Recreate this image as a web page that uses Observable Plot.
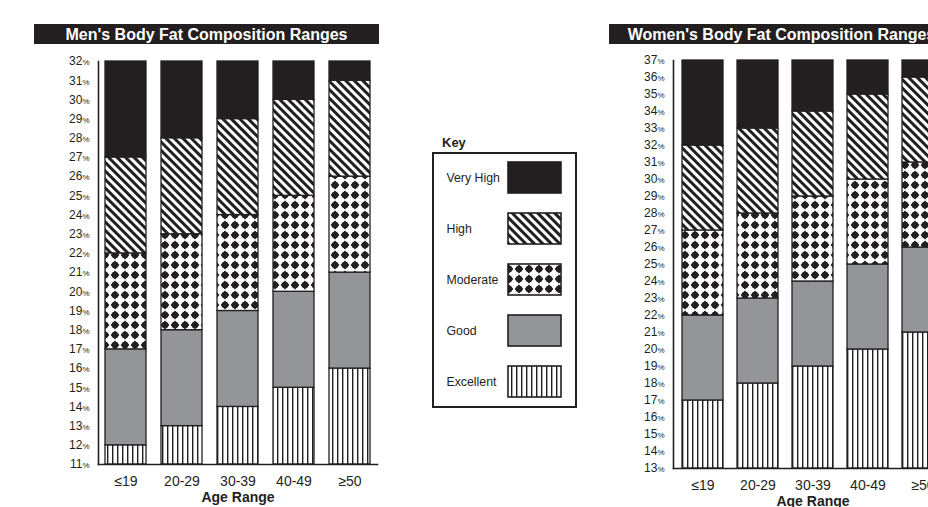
<!DOCTYPE html>
<html>
<head>
<meta charset="utf-8">
<script src="https://cdn.jsdelivr.net/npm/d3@7"></script>
<script src="https://cdn.jsdelivr.net/npm/@observablehq/plot@0.6"></script>
<style>
  body { margin: 0; background: #fff; font-family: "Liberation Sans", Arial, sans-serif; }
  #root { position: relative; width: 928px; height: 507px; overflow: hidden; background: #fff; }
  .title { position: absolute; top: 24px; height: 20px; line-height: 21px; width: 345px; background: #231f20; color: #fff;
           font-weight: bold; font-size: 16px; text-align: center; white-space: nowrap; z-index: 2; }
  .panel { position: absolute; top: 0; height: 507px; }
  .panel svg, #keyBox svg { max-width: none !important; display: block; }
  #keyLabel { position: absolute; left: 442px; top: 135px; font-weight: bold; font-size: 13px; line-height: 16px; color: #231f20; }
  #keyBox { position: absolute; left: 432px; top: 152px; width: 145px; height: 256px; border: 2px solid #231f20; box-sizing: border-box; }
  #keyBox svg { position: absolute; left: 0; top: 0; }
</style>
</head>
<body>
<svg width="0" height="0" style="position:absolute">
  <defs>
    <pattern id="p-high" patternUnits="userSpaceOnUse" width="6" height="6" patternTransform="rotate(-45)">
      <rect width="6" height="6" fill="#fff"/>
      <rect width="3" height="6" fill="#231f20"/>
    </pattern>
    <pattern id="p-mod" patternUnits="userSpaceOnUse" width="10" height="10">
      <rect width="10" height="10" fill="#fff"/>
      <path d="M5,0.6L9.4,5L5,9.4L0.6,5Z" fill="#231f20"/>
      <circle cx="5" cy="5" r="3.3" fill="#231f20"/>
    </pattern>
    <pattern id="p-exc" patternUnits="userSpaceOnUse" width="5" height="5">
      <rect width="5" height="5" fill="#fff"/>
      <rect x="2" width="1.4" height="5" fill="#231f20"/>
    </pattern>
  </defs>
</svg>
<div id="root">
  <div class="title" style="left:34px">Men's Body Fat Composition Ranges</div>
  <div class="title" style="left:609px">Women's Body Fat Composition Ranges</div>
  <div id="men" class="panel" style="left:0px; width:385px"></div>
  <div id="women" class="panel" style="left:600px; width:360px"></div>
  <div id="keyLabel">Key</div>
  <div id="keyBox"></div>
</div>
<script>
// ---- Data ----
const ageRanges = ["≤19", "20-29", "30-39", "40-49", "≥50"];
const levels = ["Excellent", "Good", "Moderate", "High", "Very High"];
const levelFills = ["url(#p-exc)", "#939598", "url(#p-mod)", "url(#p-high)", "#231f20"];

// Men: axis 11%–32%; upper bound of each range per age group
const menMin = 11, menMax = 32;
const menExcellent = [12, 13, 14, 15, 16];
const menGood      = [17, 18, 19, 20, 21];
const menModerate  = [22, 23, 24, 25, 26];
const menHigh      = [27, 28, 29, 30, 31];
const menVeryHigh  = [32, 32, 32, 32, 32];

// Women: axis 13%–37%
const womenMin = 13, womenMax = 37;
const womenExcellent = [17, 18, 19, 20, 21];
const womenGood      = [22, 23, 24, 25, 26];
const womenModerate  = [27, 28, 29, 30, 31];
const womenHigh      = [32, 33, 34, 35, 36];
const womenVeryHigh  = [37, 37, 37, 37, 37];

function buildRows(base, series) {
  const rows = [];
  ageRanges.forEach((age, i) => {
    let lo = base;
    series.forEach((s, j) => {
      rows.push({age, level: levels[j], y1: lo, y2: s[i]});
      lo = s[i];
    });
  });
  return rows;
}
const menRows = buildRows(menMin, [menExcellent, menGood, menModerate, menHigh, menVeryHigh]);
const womenRows = buildRows(womenMin, [womenExcellent, womenGood, womenModerate, womenHigh, womenVeryHigh]);

const ink = "#231f20";
const colorScale = {type: "ordinal", domain: levels, range: levelFills, legend: false};

function chart({rows, lo, hi, width, height, marginLeft, marginRight, marginTop, marginBottom, paddingOuter}) {
  const svg = Plot.plot({
    width, height, marginLeft, marginRight, marginTop, marginBottom,
    style: {fontFamily: '"Liberation Sans", Arial, sans-serif', color: ink, background: "transparent", overflow: "visible"},
    x: {domain: ageRanges, paddingInner: 0.26, paddingOuter, label: null},
    y: {domain: [lo, hi], label: null},
    color: colorScale,
    marks: [
      Plot.barY(rows, {x: "age", y1: "y1", y2: "y2", fill: "level", stroke: ink, strokeWidth: 1.3}),
      Plot.axisY(d3.range(lo, hi + 1), {tickSize: 0, tickPadding: 9, fontSize: 12, label: null, tickFormat: d => String(d)}),
      Plot.axisX({tickSize: 0, tickPadding: 12, fontSize: 14, label: null}),
      Plot.frame({anchor: "left", stroke: ink, strokeWidth: 1.6}),
      Plot.frame({anchor: "bottom", stroke: ink, strokeWidth: 1.6}),
      Plot.text(["Age Range"], {frameAnchor: "bottom", dy: 37.5, fontWeight: "bold", fontSize: 14, fill: ink})
    ]
  });
  d3.select(svg).selectAll('g[aria-label="y-axis tick label"] text').each(function() {
    const t = d3.select(this);
    const v = t.text();
    t.text(v);
    t.append("tspan").attr("font-size", "8px").text("%");
  });
  return svg;
}

document.getElementById("men").appendChild(chart({
  rows: menRows, lo: menMin, hi: menMax,
  width: 385, height: 507, marginLeft: 98, marginRight: 8, marginTop: 61, marginBottom: 43, paddingOuter: 0.12
}));
document.getElementById("women").appendChild(chart({
  rows: womenRows, lo: womenMin, hi: womenMax,
  width: 360, height: 507, marginLeft: 73, marginRight: 8, marginTop: 60, marginBottom: 39, paddingOuter: 0.14
}));

// ---- Key ----
const keyLevels = levels.slice().reverse();
const keySvg = Plot.plot({
  width: 141, height: 252, marginLeft: 74, marginRight: 14, marginTop: 0, marginBottom: 0,
  style: {fontFamily: '"Liberation Sans", Arial, sans-serif', color: ink, background: "transparent", overflow: "visible"},
  x: {domain: [0, 1], axis: null},
  y: {domain: keyLevels, range: [6.7, 244.3], paddingInner: 0.386, paddingOuter: 0, axis: null},
  color: colorScale,
  marks: [
    Plot.barX(keyLevels, {x1: 0, x2: 1, y: d => d, fill: d => d, stroke: ink, strokeWidth: 1.6}),
    Plot.text(keyLevels, {y: d => d, frameAnchor: "left", dx: -62, textAnchor: "start", fontSize: 12.3, fill: ink})
  ]
});
document.getElementById("keyBox").appendChild(keySvg);
</script>
</body>
</html>
